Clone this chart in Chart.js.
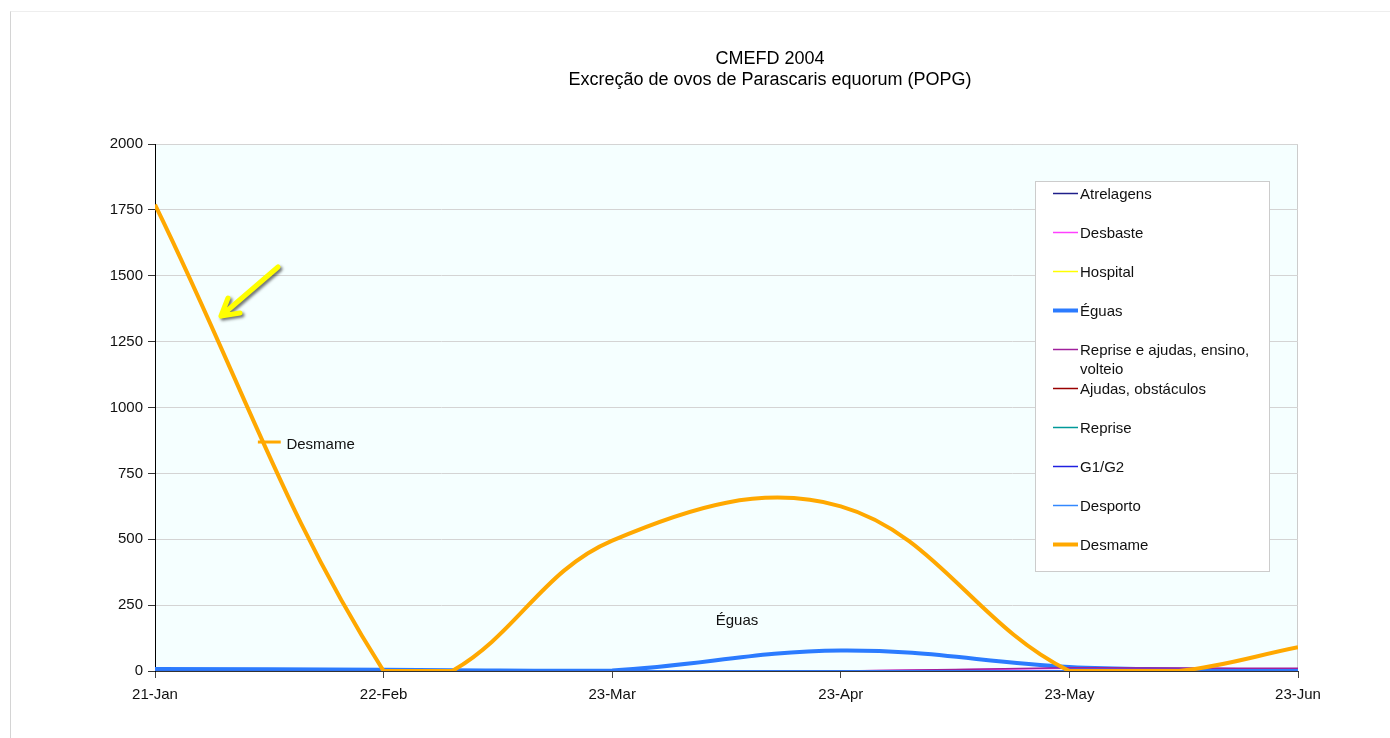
<!DOCTYPE html>
<html lang="pt">
<head>
  <meta charset="UTF-8">
  <title>CMEFD 2004</title>
  <script src="https://cdn.jsdelivr.net/npm/chart.js@4"></script>
  <style>
    body {
      margin: 0;
      background: #fff;
      font-family: "Liberation Sans", Arial, sans-serif;
    }
    .wrap {
      position: relative;
      width: 1390px;
      height: 738px;
    }
    .frame {
      position: absolute;
      left: 10px;
      top: 11px;
      right: 0;
      bottom: 0;
      border-left: 1px solid #d4d4d4;
      border-top: 1px solid #eeeeee;
    }
  </style>
</head>
<body>
  <div class="wrap">
    <div class="frame"></div>
    <canvas id="chart"></canvas>
  </div>

  <script>
    // axis ticks (evenly spaced, one per month)
    const tickLabels = ['21-Jan', '22-Feb', '23-Mar', '23-Apr', '23-May', '23-Jun'];
    // sample positions on the x axis, in tick units
    const samplePos = [0, 1, 1.3, 2, 3, 4, 4.48, 5];

    // POPG per group
    const atrelagens = [0, 0, 0, 0, 0, 0, 0, 0];
    const desbaste = [0, 0, 0, 0, 0, 10, 9, 8];
    const hospital = [0, 0, 0, 0, 0, 0, 0, 0];
    const eguas = [8, 5, 3, 2, 78, 15, 6, 3];
    const repriseAjudas = [0, 0, 0, 0, 0, 12, 11, 10];
    const ajudasObst = [0, 0, 0, 0, 0, 0, 0, 0];
    const reprise = [0, 0, 0, 0, 0, 0, 0, 0];
    const g1g2 = [0, 0, 0, 0, 0, 0, 0, 0];
    const desporto = [0, 0, 0, 0, 0, 0, 0, 0];
    const desmame = [1770, 0, 0, 495, 625, 0, 0, 90];

    const names = ['Atrelagens', 'Desbaste', 'Hospital', 'Éguas', 'Reprise e ajudas, ensino, volteio',
      'Ajudas, obstáculos', 'Reprise', 'G1/G2', 'Desporto', 'Desmame'];
    const series = [atrelagens, desbaste, hospital, eguas, repriseAjudas, ajudasObst, reprise, g1g2, desporto, desmame];
    const colors = ['#1f1f8a', '#ff40ff', '#ffff00', '#2b7bff', '#a0209c', '#990000', '#009999', '#2020e0', '#3388ff', '#ffa800'];
    const widths = [1.5, 1.5, 1.5, 4, 1.5, 1.5, 1.5, 1.5, 1.5, 4];

    const FONT = '"Liberation Sans", Arial, sans-serif';

    const datasets = names.map((name, i) => ({
      label: name,
      data: samplePos.map((x, k) => ({ x: x, y: series[i][k] })),
      borderColor: colors[i],
      backgroundColor: colors[i],
      borderWidth: widths[i],
      pointRadius: 0,
      tension: 0.38,
      fill: false,
      order: names.length - i   // later series drawn on top, like the original
    }));

    // plot background + light frame
    const plotBg = {
      id: 'plotBg',
      beforeDraw(chart) {
        const a = chart.chartArea, ctx = chart.ctx;
        ctx.save();
        ctx.fillStyle = '#f5ffff';
        ctx.fillRect(a.left, a.top, a.right - a.left, a.bottom - a.top);
        ctx.strokeStyle = '#cccccc';
        ctx.lineWidth = 1;
        ctx.strokeRect(a.left + 0.5, a.top + 0.5, a.right - a.left - 1, a.bottom - a.top);
        ctx.restore();
      }
    };

    // two-line title
    const titlePlugin = {
      id: 'twoLineTitle',
      afterDraw(chart) {
        const ctx = chart.ctx;
        ctx.save();
        ctx.fillStyle = '#000';
        ctx.font = '18px ' + FONT;
        ctx.textAlign = 'center';
        ctx.textBaseline = 'middle';
        ctx.fillText('CMEFD 2004', 770, 59);
        ctx.fillText('Excreção de ovos de Parascaris equorum (POPG)', 770, 80);
        ctx.restore();
      }
    };

    function wrapText(ctx, text, maxW) {
      const words = text.split(' ');
      const lines = [];
      let cur = '';
      words.forEach(w => {
        const test = cur ? cur + ' ' + w : w;
        if (ctx.measureText(test).width > maxW && cur) {
          lines.push(cur);
          cur = w;
        } else {
          cur = test;
        }
      });
      if (cur) lines.push(cur);
      return lines;
    }

    // boxed legend inside the plot
    const boxLegend = {
      id: 'boxLegend',
      afterDraw(chart) {
        const ctx = chart.ctx;
        const x = 1035, y = 181, w = 234, h = 390;
        ctx.save();
        ctx.fillStyle = '#fff';
        ctx.fillRect(x, y, w, h);
        ctx.strokeStyle = '#cccccc';
        ctx.lineWidth = 1;
        ctx.strokeRect(x + 0.5, y + 0.5, w, h);
        ctx.font = '15px ' + FONT;
        ctx.textBaseline = 'middle';
        chart.data.datasets.forEach((ds, i) => {
          const cy = y + 12 + i * 39;
          ctx.strokeStyle = ds.borderColor;
          ctx.lineWidth = ds.borderWidth;
          ctx.beginPath();
          ctx.moveTo(x + 18, cy + 0.5);
          ctx.lineTo(x + 43, cy + 0.5);
          ctx.stroke();
          ctx.fillStyle = '#111';
          wrapText(ctx, ds.label, 182).forEach((ln, k) => ctx.fillText(ln, x + 45, cy + 1.5 + k * 19));
        });
        ctx.restore();
      }
    };

    // series labels and the yellow arrow
    const notes = {
      id: 'notes',
      afterDatasetsDraw(chart) {
        const ctx = chart.ctx;
        const xs = chart.scales.x, ys = chart.scales.y;
        ctx.save();
        ctx.font = '15px ' + FONT;
        ctx.fillStyle = '#111';
        ctx.textBaseline = 'middle';

        // Desmame label with key
        const ly = ys.getPixelForValue(869);
        ctx.strokeStyle = colors[9];
        ctx.lineWidth = 3;
        ctx.beginPath();
        ctx.moveTo(xs.getPixelForValue(0.45), ly);
        ctx.lineTo(xs.getPixelForValue(0.55), ly);
        ctx.stroke();
        ctx.textAlign = 'left';
        ctx.fillText('Desmame', xs.getPixelForValue(0.575), ly + 3);

        // Éguas label
        ctx.textAlign = 'center';
        ctx.fillText('Éguas', xs.getPixelForValue(2.546), ys.getPixelForValue(192));

        // arrow
        const tail = [278, 267], tip = [221, 316];
        ctx.shadowColor = 'rgba(0,0,0,0.55)';
        ctx.shadowBlur = 3;
        ctx.shadowOffsetX = 2;
        ctx.shadowOffsetY = 2;
        ctx.strokeStyle = '#ffff00';
        ctx.lineWidth = 5;
        ctx.lineCap = 'round';
        ctx.lineJoin = 'round';
        ctx.beginPath();
        ctx.moveTo(tail[0], tail[1]);
        ctx.lineTo(tip[0], tip[1]);
        ctx.moveTo(228, 298);
        ctx.lineTo(tip[0], tip[1]);
        ctx.lineTo(240, 313);
        ctx.stroke();
        ctx.restore();
      }
    };

    new Chart(document.getElementById('chart'), {
      type: 'line',
      data: { datasets: datasets },
      options: {
        responsive: true,
        maintainAspectRatio: false,
        animation: false,
        layout: { padding: { left: 95, right: 92, top: 144, bottom: 27 } },
        plugins: {
          legend: { display: false },
          title: { display: false },
          tooltip: { enabled: false }
        },
        scales: {
          x: {
            type: 'linear',
            min: 0,
            max: 5,
            afterFit: s => { s.height = 40; },
            afterBuildTicks: s => { s.ticks = tickLabels.map((_, i) => ({ value: i })); },
            ticks: {
              autoSkip: false,
              maxRotation: 0,
              padding: 8,
              color: '#111',
              font: { family: FONT, size: 15 },
              callback: v => tickLabels[v] !== undefined ? tickLabels[v] : ''
            },
            grid: {
              drawOnChartArea: false,
              drawTicks: true,
              tickLength: 7,
              tickColor: '#444',
              color: '#444'
            },
            border: { color: '#333', width: 1 }
          },
          y: {
            min: 0,
            max: 2000,
            afterFit: s => { s.width = 60; },
            ticks: {
              stepSize: 250,
              padding: 5,
              color: '#111',
              font: { family: FONT, size: 15 },
              callback: v => String(v)
            },
            grid: {
              color: '#d4d4d4',
              tickLength: 7,
              tickColor: '#333'
            },
            border: { color: '#000', width: 1 }
          }
        }
      },
      plugins: [plotBg, notes, boxLegend, titlePlugin]
    });
  </script>
</body>
</html>
